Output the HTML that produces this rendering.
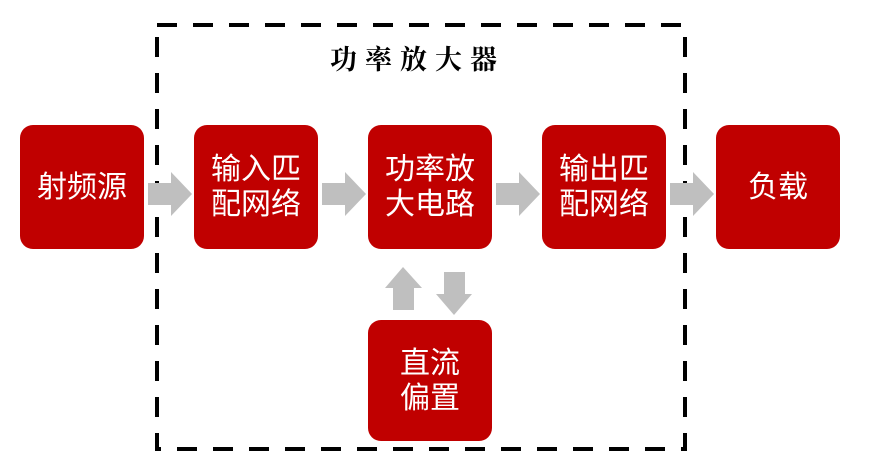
<!DOCTYPE html>
<html><head><meta charset="utf-8"><style>
body{margin:0;width:875px;height:461px;background:#fff;position:relative;overflow:hidden;font-family:"Liberation Sans","Noto Sans CJK SC",sans-serif}
.b{position:absolute;width:124px;height:124px;background:#c00000;border-radius:13px;color:#fff;font-size:30px;line-height:35px;display:flex;align-items:center;justify-content:center;text-align:center}
.t{position:absolute;left:330px;top:38px;font-family:"Noto Serif CJK SC",serif;font-weight:bold;font-size:27px;letter-spacing:8px;color:#000}
</style></head><body>
<svg width="875" height="461" style="position:absolute;left:0;top:0">
<rect x="157" y="25" width="528" height="424" fill="none" stroke="#000" stroke-width="4" stroke-dasharray="20 16"/>
<g fill="#bfbfbf">
<polygon points="148,183 171,183 171,172 192,194 171,216 171,205 148,205"/>
<polygon points="322,183 345,183 345,172 366,194 345,216 345,205 322,205"/>
<polygon points="496,183 519,183 519,172 540,194 519,216 519,205 496,205"/>
<polygon points="670,183 693,183 693,172 714,194 693,216 693,205 670,205"/>
<polygon points="393,310 414,310 414,288 422,288 403,267 385,288 393,288"/>
<polygon points="444,272 465,272 465,294 472,294 454,315 436,294 444,294"/>
</g>
</svg>
<div class="t">功率放大器</div>
<div class="b" style="left:20px;top:125px">射频源</div>
<div class="b" style="left:194px;top:125px">输入匹<br>配网络</div>
<div class="b" style="left:368px;top:125px">功率放<br>大电路</div>
<div class="b" style="left:542px;top:125px">输出匹<br>配网络</div>
<div class="b" style="left:716px;top:125px">负载</div>
<div class="b" style="left:368px;top:320px;height:121px">直流<br>偏置</div>
</body></html>
